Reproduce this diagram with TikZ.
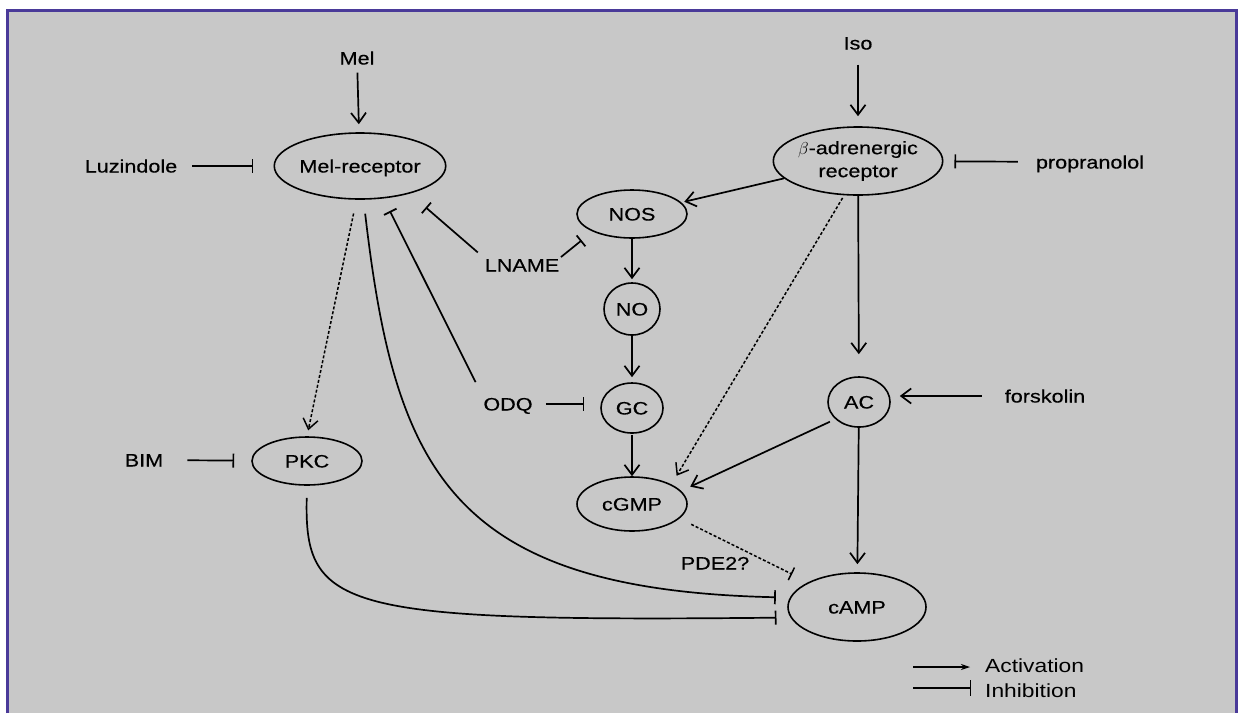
\documentclass[tikz,border=0pt]{standalone}
\usepackage{fontspec}
\setmainfont[FakeStretch=1.2,FakeBold=0.4]{Liberation Sans}
\newfontfamily\legfont[FakeStretch=1.2]{Liberation Sans}
\usetikzlibrary{arrows.meta,shapes.geometric}
\definecolor{bgray}{RGB}{200,200,200}
\definecolor{framec}{RGB}{74,58,153}
\begin{document}
\begin{tikzpicture}[x=1pt,y=-1pt,
  lbl/.style={inner sep=0pt, font=\fontsize{18}{23}\selectfont, text height=13pt, text depth=0pt},
  ell/.style={ellipse, draw, line width=1.6pt, inner sep=0pt, font=\fontsize{18}{23}\selectfont},
  one/.style={text height=13pt, text depth=0pt},
  act/.style={line width=1.7pt, -{Straight Barb[length=10pt,width=15pt]}},
  inh/.style={line width=1.7pt, -{Bar[width=14pt]}},
  dsh/.style={dash pattern=on 3pt off 2pt, line width=1.5pt},
  leg/.style={inner sep=0pt, anchor=west, font=\legfont\fontsize{19}{23}\selectfont, text height=13.5pt, text depth=0pt}
]
\useasboundingbox (0,0) rectangle (1238,713);
\fill[white] (0,0) rectangle (1238,713);
\fill[bgray] (8,11) rectangle (1236,713);
\draw[framec, line width=3pt] (7.5,713) -- (7.5,10.5) -- (1236.5,10.5) -- (1236.5,713);

% nodes
\node[lbl] (mel) at (357,58) {Mel};
\node[ell, one, minimum width=154pt, minimum height=66pt] (melr) at (360,166) {Mel-receptor};
\node[lbl] (luz) at (131,166) {Luzindole};
\node[lbl] (iso) at (858,43) {Iso};
\node[ell, align=center, minimum width=156pt, minimum height=68pt] (bar) at (858,161) {$\beta$-adrenergic\\receptor};
\node[lbl] (prop) at (1090,162) {propranolol};
\node[ell, one, minimum width=110pt, minimum height=48pt] (nos) at (632,214) {NOS};
\node[lbl] (lname) at (522,265) {LNAME};
\node[ell, one, minimum width=56pt, minimum height=52pt] (no) at (632,309) {NO};
\node[ell, one, minimum width=62pt, minimum height=50pt] (gc) at (632,408) {GC};
\node[lbl] (odq) at (508,404) {ODQ};
\node[ell, one, minimum width=110pt, minimum height=54pt] (cgmp) at (632,504) {cGMP};
\node[ell, one, minimum width=62pt, minimum height=50pt] (ac) at (859,402) {AC};
\node[lbl] (forsk) at (1045,396) {forskolin};
\node[ell, one, minimum width=138pt, minimum height=68pt] (camp) at (857,607) {cAMP};
\node[ell, one, minimum width=110pt, minimum height=48pt] (pkc) at (307,461) {PKC};
\node[lbl] (bim) at (144,460) {BIM};
\node[lbl] (pde) at (715,563) {PDE2?};

% connectors
\draw[act, shorten <=8pt, shorten >=8pt] (mel) -- (melr);
\draw[inh, shorten <=15pt, shorten >=20pt] (luz) -- (melr);
\draw[act, shorten <=15pt, shorten >=10pt] (iso) -- (bar);
\draw[inh, shorten <=18pt, shorten >=11pt] (prop) -- (bar);
\draw[act, shorten >=3pt] (bar) -- (nos);
\draw[inh, shorten <=2pt, shorten >=14pt] (lname.north east) -- (nos.south west);
\draw[inh, shorten <=9pt, shorten >=21pt] (lname.north west) -- (melr.-29);
\draw[inh, shorten <=17pt, shorten >=14pt] (odq.north west) -- (melr.-54);
\draw[inh, shorten <=13pt, shorten >=16pt] (odq.east) -- (odq.east -| gc.west);
\draw[act, shorten >=3pt] (nos) -- (no);
\draw[act, shorten >=5pt] (no) -- (gc);
\draw[act, shorten <=1pt] (gc) -- (cgmp);
\draw[act, shorten >=22pt] (bar) -- (ac);
\draw[act, shorten <=23pt, shorten >=9pt] (forsk.west) -- (forsk.west -| ac.east);
\draw[act, dsh, shorten <=3pt, shorten >=10pt] (bar.-112) -- (cgmp.north east);
\draw[act, shorten <=6pt, shorten >=10pt] (ac.216) -- (cgmp.15);
\draw[act, shorten >=8pt] (ac) -- (camp);
\draw[inh, dsh, shorten <=13pt, shorten >=18pt] (cgmp.-17) -- (camp.153);
\draw[act, dsh, shorten <=14pt, shorten >=6pt] (melr.-96) -- (pkc.north);
\draw[inh, shorten <=14pt, shorten >=14pt] (melr.-84) .. controls (395,470) and (450,590) .. (camp.172);
\draw[inh, shorten <=12pt, shorten >=14pt] (pkc.south) .. controls (304,610) and (340,622) .. (camp.189);
\draw[inh, shorten <=24pt, shorten >=17pt] (bim) -- (pkc);

% legend
\node[leg] (lact) at (985,666) {Activation};
\node[leg] (linh) at (985,691) {Inhibition};
\coordinate (la) at (913,667);
\coordinate (li) at (913,688);
\draw[line width=1.1pt, -{Stealth[length=9pt,width=6pt]}, shorten >=15pt] (la) -- (la -| lact.west);
\draw[line width=1.1pt, -{Bar[width=16pt]}, shorten >=14pt] (li) -- (li -| linh.west);
\end{tikzpicture}
\end{document}
